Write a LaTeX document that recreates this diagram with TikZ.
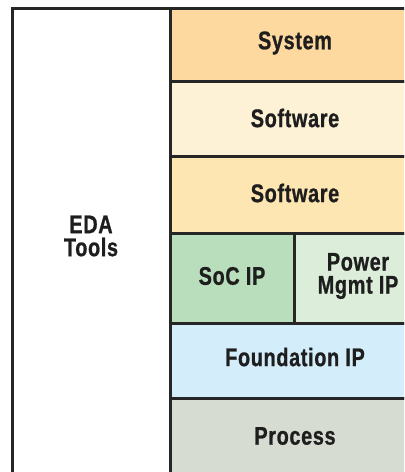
\documentclass[tikz,border=0pt]{standalone}
\usepackage{fontspec}
\newfontfamily\lblfont{Liberation Sans}[FakeStretch=0.78,FakeBold=0.8,LetterSpace=2.5]
\definecolor{linec}{HTML}{262626}
\definecolor{txt}{HTML}{1E1E1E}
\definecolor{csys}{HTML}{FDD9A0}
\definecolor{csw}{HTML}{FEF2D6}
\definecolor{cswb}{HTML}{FDE6B2}
\definecolor{csoc}{HTML}{B9DEBC}
\definecolor{cpow}{HTML}{DCEEDA}
\definecolor{cfound}{HTML}{D4EDFA}
\definecolor{cproc}{HTML}{D6DCD1}
\begin{document}
\begin{tikzpicture}[x=1bp,y=-1bp,line width=3bp,
  cell/.style={draw=linec},
  lbl/.style={font=\lblfont\bfseries\fontsize{25.5bp}{23bp}\selectfont, text=txt, align=center, inner sep=0pt}]
\useasboundingbox (0,0) rectangle (404,472);
\fill[white] (0,0) rectangle (404,472);
\begin{scope}
\clip (0,0) rectangle (404,472);
\filldraw[cell, fill=white] (12,9) rectangle (170,474);
\filldraw[cell, fill=csys] (170,9) rectangle (421,82);
\filldraw[cell, fill=csw] (170,82) rectangle (421,157);
\filldraw[cell, fill=cswb] (170,157) rectangle (421,233);
\filldraw[cell, fill=csoc] (170,233) rectangle (294,323);
\filldraw[cell, fill=cpow] (294,233) rectangle (421,323);
\filldraw[cell, fill=cfound] (170,323) rectangle (421,398);
\filldraw[cell, fill=cproc] (170,398) rectangle (421,474);
\end{scope}
\node[lbl] (eda) at (91,236) {EDA\\Tools};
\node[lbl] (sys) at (295,43) {System};
\node[lbl] (sw1) at (295,118) {Software};
\node[lbl] (sw2) at (295,193) {Software};
\node[lbl] (soc) at (232,276) {SoC IP};
\node[lbl] (pow) at (358,276) {Power\\Mgmt IP};
\node[lbl] (found) at (295,357) {Foundation IP};
\node[lbl] (proc) at (295,436) {Process};
\end{tikzpicture}
\end{document}
